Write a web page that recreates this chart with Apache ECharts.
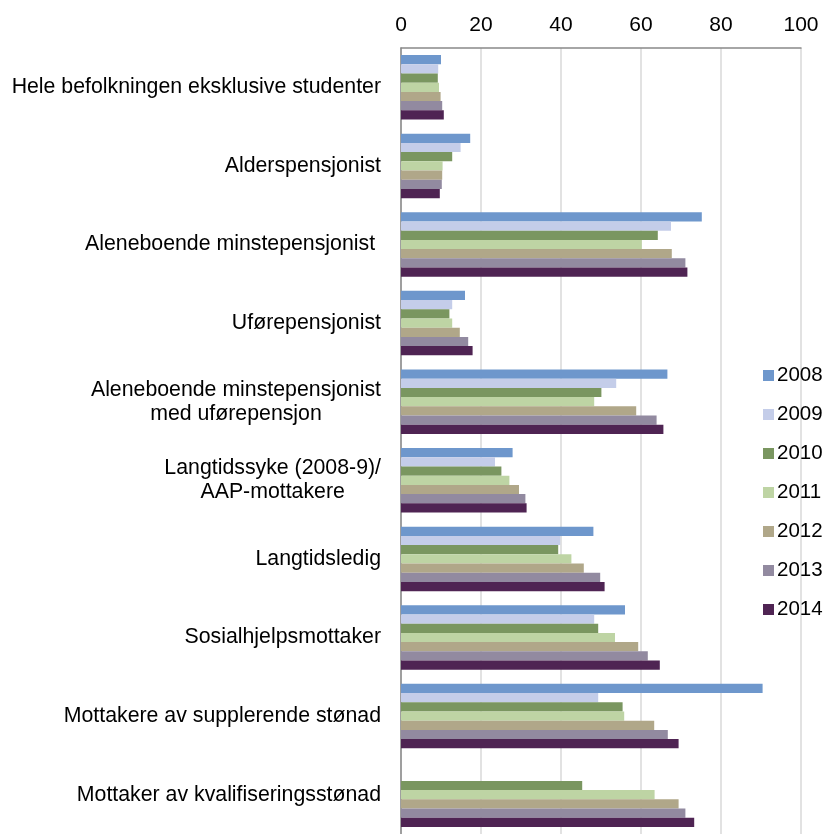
<!DOCTYPE html>
<html>
<head>
    <meta charset="utf-8">
    <title>Andel med lavinntekt etter gruppe</title>
    <script src="https://cdn.jsdelivr.net/npm/echarts@6/dist/echarts.min.js"></script>
    <style>
        html, body { margin: 0; padding: 0; background: #fff; }
        #chart { width: 827px; height: 834px; }
    </style>
</head>
<body>
    <div id="chart"></div>

    <script>
    // kategorier (ovenfra og ned)
    const categories = [
        "Hele befolkningen eksklusive studenter",
        "Alderspensjonist",
        "Aleneboende minstepensjonist ",
        "Uførepensjonist",
        "Aleneboende minstepensjonist\nmed uførepensjon",
        "Langtidssyke (2008-9)/\nAAP-mottakere",
        "Langtidsledig",
        "Sosialhjelpsmottaker",
        "Mottakere av supplerende stønad",
        "Mottaker av kvalifiseringsstønad"
    ];

    const years = ["2008", "2009", "2010", "2011", "2012", "2013", "2014"];

    // verdier per år, samme rekkefølge som categories
    const v2008 = [10.0, 17.3, 75.2, 16.0, 66.6, 27.9, 48.1, 56.0, 90.4, null];
    const v2009 = [9.3, 14.9, 67.5, 12.8, 53.8, 23.5, 39.8, 48.3, 49.3, null];
    const v2010 = [9.2, 12.8, 64.2, 12.1, 50.1, 25.1, 39.3, 49.3, 55.4, 45.3];
    const v2011 = [9.5, 10.4, 60.2, 12.8, 48.3, 27.1, 42.6, 53.5, 55.8, 63.4];
    const v2012 = [9.9, 10.3, 67.7, 14.7, 58.8, 29.5, 45.7, 59.3, 63.3, 69.4];
    const v2013 = [10.3, 10.2, 71.1, 16.8, 63.9, 31.1, 49.8, 61.7, 66.7, 71.1];
    const v2014 = [10.7, 9.7, 71.6, 17.9, 65.6, 31.4, 50.9, 64.7, 69.4, 73.3];

    const xTicks = [0, 20, 40, 60, 80, 100];

    const values = [v2008, v2009, v2010, v2011, v2012, v2013, v2014];
    const colors = ["#6e97cc", "#c4cde9", "#7a9660", "#bed4a4", "#b0a789", "#928aa0", "#4f2453"];

    const font = "'Liberation Sans', Arial, sans-serif";

    const chart = echarts.init(document.getElementById('chart'));

    const option = {
        backgroundColor: "#fff",
        animation: false,
        textStyle: { fontFamily: font },
        grid: { left: 401, top: 48, right: 26, height: 787 },
        legend: {
            orient: "vertical",
            left: 763,
            top: 365,
            padding: 0,
            icon: "rect",
            itemWidth: 11,
            itemHeight: 11,
            itemGap: 18,
            textStyle: { fontSize: 20.5, color: "#000", fontFamily: font, padding: [0, 0, 0, -2] },
            data: years
        },
        xAxis: {
            type: "value",
            position: "top",
            min: xTicks[0],
            max: xTicks[xTicks.length - 1],
            interval: 20,
            axisLine: { show: true, lineStyle: { color: "#898989", width: 1.5 } },
            axisTick: { show: false },
            axisLabel: { fontSize: 21, color: "#000", margin: 12, fontFamily: font },
            splitLine: { lineStyle: { color: "#d9d9d9", width: 1.5 } }
        },
        yAxis: {
            type: "category",
            inverse: true,
            data: categories,
            axisLine: { lineStyle: { color: "#898989", width: 1.5 } },
            axisTick: { show: false },
            axisLabel: {
                fontSize: 21.3,
                color: "#000",
                margin: 20,
                lineHeight: 24,
                fontFamily: font,
                formatter: function (val) {
                    return val.split("\n").map(function (s) { return "{c|" + s + "}"; }).join("\n");
                },
                rich: {
                    c: { align: "center", fontSize: 21.3, lineHeight: 24, color: "#000", fontFamily: font }
                }
            }
        },
        series: years.map(function (y, i) {
            return {
                name: y,
                type: "bar",
                data: values[i],
                barGap: "0%",
                barCategoryGap: "18%",
                itemStyle: { color: colors[i] }
            };
        })
    };

    chart.setOption(option);
    </script>
</body>
</html>
